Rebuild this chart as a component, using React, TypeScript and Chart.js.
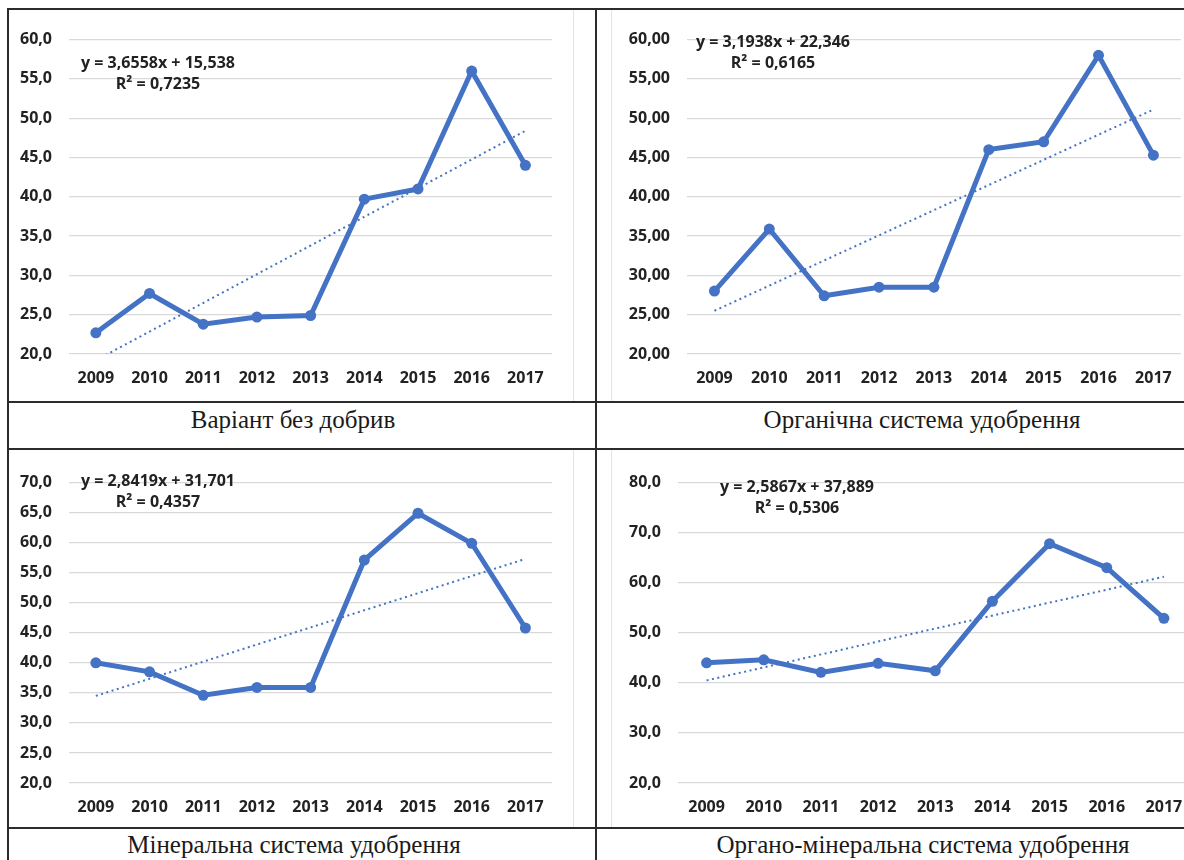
import React, { useEffect, useRef } from "react";
import { Chart, registerables } from "chart.js";

Chart.register(...registerables);

// ---------- data ----------
const years = ["2009", "2010", "2011", "2012", "2013", "2014", "2015", "2016", "2017"];

const valuesNoFert = [22.7, 27.7, 23.8, 24.7, 24.9, 39.7, 41.0, 56.0, 44.0];
const valuesOrganic = [28.0, 35.9, 27.4, 28.5, 28.5, 46.0, 47.0, 58.0, 45.3];
const valuesMineral = [40.0, 38.5, 34.6, 35.9, 35.9, 57.1, 64.9, 59.9, 45.8];
const valuesOrgMin = [44.0, 44.6, 42.1, 43.9, 42.4, 56.3, 67.8, 63.0, 52.9];

// trend line end points (2009, 2017)
const trendNoFert = [19.2, 48.4];
const trendOrganic = [25.5, 51.1];
const trendMineral = [34.5, 57.3];
const trendOrgMin = [40.5, 61.2];

const ticksNoFert = ["20,0", "25,0", "30,0", "35,0", "40,0", "45,0", "50,0", "55,0", "60,0"];
const ticksOrganic = ["20,00", "25,00", "30,00", "35,00", "40,00", "45,00", "50,00", "55,00", "60,00"];
const ticksMineral = ["20,0", "25,0", "30,0", "35,0", "40,0", "45,0", "50,0", "55,0", "60,0", "65,0", "70,0"];
const ticksOrgMin = ["20,0", "30,0", "40,0", "50,0", "60,0", "70,0", "80,0"];

const eqNoFert = ["y = 3,6558x + 15,538", "R² = 0,7235"];
const eqOrganic = ["y = 3,1938x + 22,346", "R² = 0,6165"];
const eqMineral = ["y = 2,8419x + 31,701", "R² = 0,4357"];
const eqOrgMin = ["y = 2,5867x + 37,889", "R² = 0,5306"];

const captionNoFert = "Варіант без добрив";
const captionOrganic = "Органічна система удобрення";
const captionMineral = "Мінеральна система удобрення";
const captionOrgMin = "Органо-мінеральна система удобрення";

// ---------- styling ----------
const BLUE = "#4472C4";
const TEXT = "#222222";
const FONT_FAMILY = "'Open Sans', Lato, sans-serif";
const TICK_FONT = { family: FONT_FAMILY, size: 16, weight: "bold" as const };
const Y_W = 60;
const X_H = 40;
const PAD_T = 15;
const PAD_R = 5;

type Area = { l: number; r: number; t: number; b: number };

function LineChart(props: {
  values: number[];
  trend: number[];
  ticks: string[];
  min: number;
  max: number;
  step: number;
  area: Area;
}) {
  const ref = useRef<HTMLCanvasElement>(null);
  const { area } = props;
  const w = Math.round(area.r - area.l + Y_W + PAD_R);
  const h = Math.round(area.b - area.t + PAD_T + X_H);

  useEffect(() => {
    const trendData: (number | null)[] = years.map(() => null);
    trendData[0] = props.trend[0];
    trendData[years.length - 1] = props.trend[1];
    const chart = new Chart(ref.current!, {
      type: "line",
      data: {
        labels: years,
        datasets: [
          {
            data: props.values,
            borderColor: BLUE,
            backgroundColor: BLUE,
            borderWidth: 5,
            pointRadius: 5.5,
            pointBackgroundColor: BLUE,
            pointBorderColor: BLUE,
            pointBorderWidth: 0,
            tension: 0,
            order: 2,
          },
          {
            data: trendData,
            borderColor: BLUE,
            borderWidth: 2,
            borderDash: [2, 3.5],
            pointRadius: 0,
            spanGaps: true,
            order: 1,
          },
        ],
      },
      options: {
        animation: false,
        responsive: false,
        devicePixelRatio: 1,
        layout: { padding: { left: 0, top: PAD_T, right: PAD_R, bottom: 0 } },
        plugins: { legend: { display: false }, tooltip: { enabled: false } },
        scales: {
          x: {
            type: "category",
            offset: true,
            grid: { display: false, drawTicks: false },
            border: { display: false },
            ticks: { color: TEXT, font: TICK_FONT, padding: 15, maxRotation: 0, autoSkip: false },
            afterFit: (s: any) => {
              s.height = X_H;
            },
          },
          y: {
            min: props.min,
            max: props.max,
            grid: { color: "#d9d9d9", lineWidth: 1.3, drawTicks: false },
            border: { display: false },
            ticks: {
              stepSize: props.step,
              color: TEXT,
              font: TICK_FONT,
              padding: 17,
              callback: (_v: any, i: number) => props.ticks[i],
            },
            afterFit: (s: any) => {
              s.width = Y_W;
            },
          },
        },
      },
    });
    return () => chart.destroy();
  }, []);

  return (
    <canvas
      ref={ref}
      width={w}
      height={h}
      style={{
        position: "absolute",
        left: area.l - Y_W,
        top: area.t - PAD_T,
        width: w,
        height: h,
      }}
    />
  );
}

function Equation(props: { lines: string[]; cx: number; cy: number }) {
  return (
    <div
      style={{
        position: "absolute",
        left: props.cx,
        top: props.cy,
        transform: "translate(-50%, -50%)",
        textAlign: "center",
        whiteSpace: "nowrap",
        fontFamily: FONT_FAMILY,
        fontWeight: 700,
        fontSize: 16,
        lineHeight: "21px",
        color: TEXT,
      }}
    >
      {props.lines.map((l, i) => (
        <div key={i}>{l}</div>
      ))}
    </div>
  );
}

function Caption(props: { text: string; cx: number; top: number }) {
  return (
    <div
      style={{
        position: "absolute",
        left: props.cx,
        top: props.top,
        transform: "translateX(-50%)",
        whiteSpace: "nowrap",
        fontFamily: "'Liberation Serif', 'Times New Roman', serif",
        fontSize: 25,
        lineHeight: 1,
        color: "#1a1a1a",
      }}
    >
      {props.text}
    </div>
  );
}

function Line(props: { l: number; t: number; w: number; h: number; c?: string }) {
  return (
    <div
      style={{
        position: "absolute",
        left: props.l,
        top: props.t,
        width: props.w,
        height: props.h,
        background: props.c || "#2b2b2b",
      }}
    />
  );
}

export default function App() {
  return (
    <div
      style={{
        position: "fixed",
        left: 0,
        top: 0,
        width: 1184,
        height: 860,
        overflow: "hidden",
        background: "#fff",
      }}
    >
      {/* faint chart frames */}
      <Line l={573} t={10} w={1} h={391} c="#e3e3e3" />
      <Line l={611} t={10} w={1} h={391} c="#e3e3e3" />
      <Line l={573} t={450} w={1} h={377} c="#e3e3e3" />
      <Line l={611} t={450} w={1} h={377} c="#e3e3e3" />

      <LineChart values={valuesNoFert} trend={trendNoFert} ticks={ticksNoFert} min={20} max={60} step={5}
        area={{ l: 69, r: 554, t: 28, b: 354 }} />
      <LineChart values={valuesOrganic} trend={trendOrganic} ticks={ticksOrganic} min={20} max={60} step={5}
        area={{ l: 687, r: 1182, t: 28, b: 354 }} />
      <LineChart values={valuesMineral} trend={trendMineral} ticks={ticksMineral} min={20} max={70} step={5}
        area={{ l: 69, r: 554, t: 471, b: 783 }} />
      <LineChart values={valuesOrgMin} trend={trendOrgMin} ticks={ticksOrgMin} min={20} max={80} step={10}
        area={{ l: 678, r: 1193, t: 471, b: 783 }} />

      <Equation lines={eqNoFert} cx={158} cy={73} />
      <Equation lines={eqOrganic} cx={773} cy={52} />
      <Equation lines={eqMineral} cx={158} cy={491} />
      <Equation lines={eqOrgMin} cx={797} cy={497} />

      <Caption text={captionNoFert} cx={293} top={407} />
      <Caption text={captionOrganic} cx={922} top={407} />
      <Caption text={captionMineral} cx={294} top={832} />
      <Caption text={captionOrgMin} cx={923} top={832} />

      {/* table borders */}
      <Line l={7} t={8} w={1177} h={2} />
      <Line l={7} t={8} w={2} h={852} />
      <Line l={595} t={8} w={2} h={852} />
      <Line l={7} t={401} w={1177} h={2} />
      <Line l={7} t={448} w={1177} h={2} />
      <Line l={7} t={827} w={1177} h={2} />
    </div>
  );
}
